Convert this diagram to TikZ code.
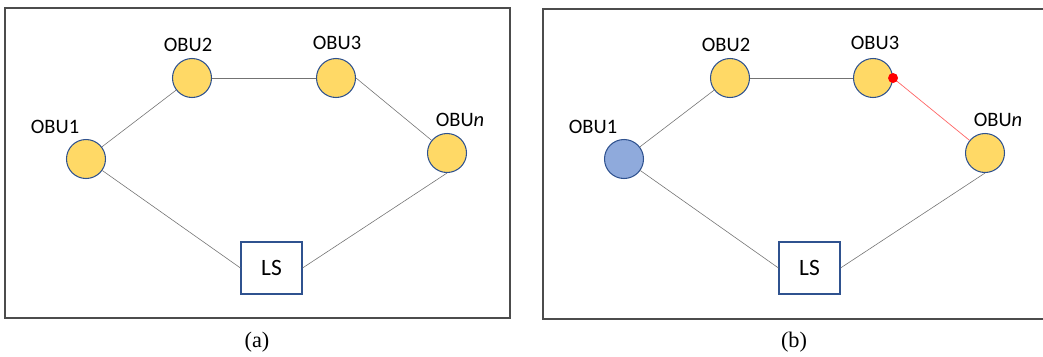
\documentclass[tikz,border=0pt]{standalone}
\usepackage{fontspec}
\setmainfont{Carlito}
\newfontfamily\capfont{Liberation Serif}
\usepackage{xcolor}
\usetikzlibrary{positioning}

\definecolor{nodeyellow}{HTML}{FFD966}
\definecolor{nodeblue}{HTML}{8FAADC}
\definecolor{edgeblue}{HTML}{2F528F}

\begin{document}
\begin{tikzpicture}[
    x=0.03cm, y=-0.03cm,
    frame/.style={draw=black!70, line width=1.2pt},
    obu/.style={circle, draw=edgeblue, line width=0.9pt, fill=nodeyellow, minimum size=1.17cm, inner sep=0pt},
    lsbox/.style={rectangle, draw=edgeblue, line width=0.9pt, fill=white, minimum width=1.83cm, minimum height=1.56cm, font=\fontsize{20}{24}\selectfont},
    lbl/.style={font=\fontsize{17.5}{20}\selectfont, inner sep=0pt},
    link/.style={draw=black!55, line width=0.5pt},
    subcap/.style={font=\capfont\fontsize{19}{22}\selectfont, inner sep=0pt}
]
    \useasboundingbox (0,0) rectangle (1043,356);

    % (a): ring of OBUs closed through the LS
    \draw[frame] (5,8) rectangle (510,318);
    \node[obu] (a1) at (86,159) {};
    \node[obu] (a2) at (192,78) {};
    \node[obu] (a3) at (336,78) {};
    \node[obu] (an) at (447,153) {};
    \node[lsbox] (als) at (271.5,268) {LS};

    \node[lbl] (a1t) at (55,127) {OBU1};
    \node[lbl] (a2t) at (188,45) {OBU2};
    \node[lbl] (a3t) at (337,43) {OBU3};
    \node[lbl] (ant) at (460,120) {OBU\textit{n}};

    \draw[link] (a1) -- (a2);
    \draw[link] (a2) -- (a3);
    \draw[link] (a3.east) -- (an);
    \draw[link] (a1) -- (als.west);
    \draw[link] (an.south) -- (als.east);

    \node[subcap] (acap) at (257,342) {(a)};

    % (b): OBU1 marked, link OBU3--OBUn broken
    \draw[frame] (543,9) rectangle (1048,319);
    \node[obu, fill=nodeblue] (b1) at (624,159) {};
    \node[obu] (b2) at (730,78) {};
    \node[obu] (b3) at (873,78) {};
    \node[obu] (bn) at (985,153) {};
    \node[lsbox] (bls) at (809.5,268) {LS};

    \node[lbl] (b1t) at (593,127) {OBU1};
    \node[lbl] (b2t) at (726,45) {OBU2};
    \node[lbl] (b3t) at (875,43) {OBU3};
    \node[lbl] (bnt) at (998,120) {OBU\textit{n}};

    \draw[link] (b1) -- (b2);
    \draw[link] (b2) -- (b3);
    \draw[link, draw=red!60, line width=0.6pt] (b3.east) -- (bn);
    \draw[link] (b1) -- (bls.west);
    \draw[link] (bn.south) -- (bls.east);
    \fill[red] (b3.east) circle (5);

    \node[subcap] (bcap) at (794,342) {(b)};
\end{tikzpicture}
\end{document}
